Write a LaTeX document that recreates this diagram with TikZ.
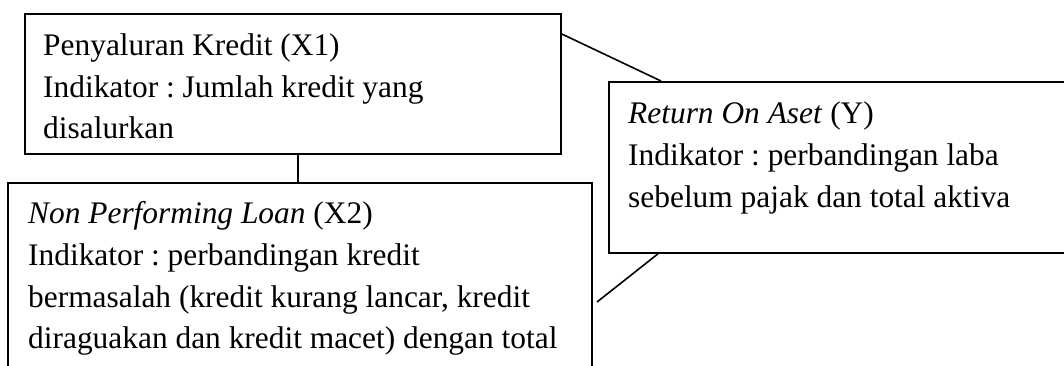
\documentclass[tikz,border=0pt]{standalone}
\usepackage{fontspec}
\setmainfont{Liberation Serif}
\frenchspacing
\begin{document}
\begin{tikzpicture}[x=1pt,y=-1pt,
  box/.style={draw=black,line width=1.8pt,fill=none,inner sep=0pt,anchor=north west},
  txt/.style={anchor=base west,inner sep=0pt,font=\fontsize{31.4}{41.7}\selectfont},
  conn/.style={draw=black,line width=1.6pt}]
\useasboundingbox (0,0) rectangle (1064,365);
\fill[white] (0,0) rectangle (1064,365);
\begin{scope}
\clip (0,0) rectangle (1064,365);
% boxes
\node[box,minimum width=536pt,minimum height=140pt] (x1) at (24,13) {};
\node[box,minimum width=584pt,minimum height=260pt] (x2) at (7,182) {};
\node[box,minimum width=500pt,minimum height=171pt] (y) at (608,81) {};
% connectors
\coordinate (a1) at (x1.east |- 0,34);
\coordinate (a2) at (y.north -| 661,0);
\coordinate (b1) at (597,302);
\coordinate (b2) at (y.south -| 658,0);
\draw[conn] (a1) -- (a2);
\draw[conn] (b1) -- (b2);
\draw[conn] (x1.south -| 298,0) -- (x2.north -| 298,0);
\end{scope}
% texts X1
\node[txt] (x1l1) at (43,55) {Penyaluran Kredit (X1)};
\node[txt] (x1l2) at (43,97) {Indikator : Jumlah kredit yang};
\node[txt] (x1l3) at (43,138) {disalurkan};
% texts X2
\node[txt] (x2l1) at (28,223) {\textit{Non Performing Loan} (X2)};
\node[txt] (x2l2) at (28,265) {Indikator : perbandingan kredit};
\node[txt] (x2l3) at (28,307) {bermasalah (kredit kurang lancar, kredit};
\node[txt] (x2l4) at (28,348) {diraguakan dan kredit macet) dengan total};
% texts Y
\node[txt] (yl1) at (628,123) {\textit{Return On Aset} (Y)};
\node[txt] (yl2) at (628,165) {Indikator : perbandingan laba};
\node[txt] (yl3) at (628,207) {sebelum pajak dan total aktiva};
\end{tikzpicture}
\end{document}
